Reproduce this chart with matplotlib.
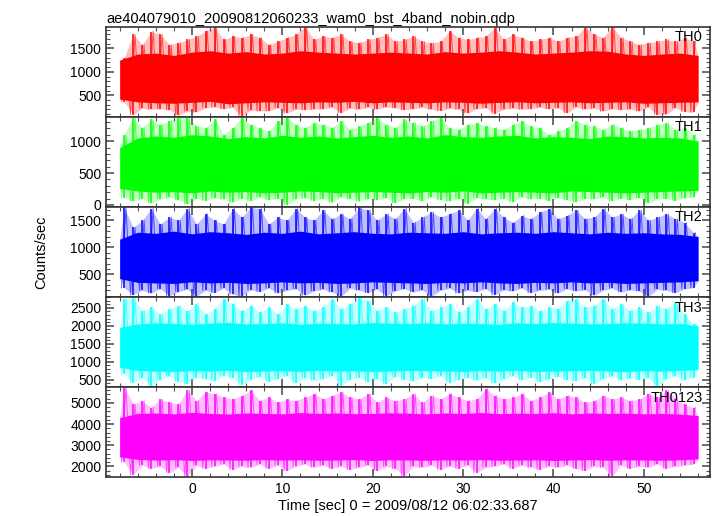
import numpy as np
import matplotlib
matplotlib.use("Agg")
import matplotlib.pyplot as plt
from matplotlib.ticker import MultipleLocator

plt.rcParams['font.family'] = ['Liberation Sans', 'DejaVu Sans']

title = "ae404079010_20090812060233_wam0_bst_4band_nobin.qdp"
xlabel = "Time [sec] 0 = 2009/08/12 06:02:33.687"
ylabel = "Counts/sec"
band_names = ["TH0", "TH1", "TH2", "TH3", "TH0123"]
colors = ["#ff0000", "#00ff00", "#0000ff", "#00ffff", "#ff00ff"]

# data span (s)
t_start, t_end = -8.0, 56.0

# upper / lower extreme spikes, one per second
th0_hi = [1300, 1800, 1580, 1860, 1800, 1580, 1620, 1690, 1760, 1870, 1950, 1690, 1760, 1730, 1800, 1730,
          1580, 1650, 1730, 1800, 1960, 1690, 1760, 1730, 1800, 1650, 1620, 1690, 1730, 1800, 1650, 1690,
          1760, 1650, 1620, 1650, 1870, 1730, 1690, 1730, 1760, 1945, 1690, 1800, 1730, 1650, 1690, 1730,
          1650, 1730, 1760, 1945, 1800, 1730, 1960, 1730, 1650, 1580, 1620, 1650, 1690, 1650, 1730, 1650]
th0_lo = [360, 90, 220, 200, 210, 190, 70, 160, 140, 230, 250, 210, 240, 40, 180, 165,
          170, 230, 120, 200, 190, 200, 210, 240, 130, 220, 200, 240, 200, 250, 230, 190,
          210, 240, 200, 170, 220, 200, 120, 210, 230, 110, 200, 220, 200, 210, 240, 210,
          230, 120, 250, 200, 220, 160, 210, 190, 200, 160, 240, 90, 100, 230, 150, 140]

th1_hi = [1100, 1370, 1210, 1340, 1260, 1316, 1370, 1370, 1235, 1210, 1340, 1100, 1210, 1370, 1260, 1210,
          1155, 1316, 1370, 1260, 1210, 1290, 1260, 1210, 1316, 1180, 1235, 1290, 1370, 1260, 1210, 1340,
          1290, 1235, 1316, 1370, 1210, 1180, 1260, 1290, 1235, 1210, 1180, 1260, 1316, 1235, 1210, 1100,
          1155, 1210, 1316, 1260, 1235, 1180, 1260, 1210, 1155, 1180, 1210, 1260, 1290, 1180, 1210, 1100]
th1_lo = [115, 60, 100, 30, 90, 120, 80, 10, 100, 70, 110, 90, 40, 100, 60, 120,
          80, 100, 0, 90, 110, 70, 100, 40, 120, 90, 60, 100, 80, 110, 30, 90,
          100, 70, 120, 80, 60, 100, 20, 110, 90, 80, 100, 50, 120, 90, 100, 70,
          110, 80, 40, 100, 90, 120, 60, 100, 80, 110, 30, 90, 100, 70, 110, 120]

th2_hi = [1740, 1370, 1500, 1720, 1430, 1560, 1500, 1720, 1430, 1620, 1500, 1430, 1720, 1560, 1740, 1720,
          1430, 1560, 1500, 1720, 1560, 1500, 1690, 1530, 1620, 1530, 1740, 1690, 1500, 1620, 1530, 1720,
          1460, 1560, 1655, 1560, 1620, 1690, 1500, 1720, 1530, 1720, 1560, 1460, 1590, 1530, 1655, 1720,
          1530, 1590, 1690, 1530, 1560, 1720, 1560, 1620, 1530, 1690, 1500, 1560, 1620, 1530, 1460, 1270]
th2_lo = [250, 120, 200, 150, 230, 100, 180, 220, 90, 200, 160, 240, 130, 90, 210, 180,
          240, 150, 200, 230, 110, 190, 220, 170, 90, 240, 200, 160, 220, 100, 190, 230,
          170, 210, 90, 200, 240, 150, 200, 180, 230, 120, 210, 190, 240, 160, 200, 220,
          150, 230, 190, 210, 110, 200, 240, 170, 210, 190, 90, 220, 200, 160, 230, 250]

th3_hi = [2750, 2780, 2420, 2510, 2320, 2470, 2560, 2420, 2610, 2320, 2470, 2750, 2610, 2420, 2560, 2370,
          2510, 2320, 2610, 2470, 2560, 2420, 2510, 2750, 2470, 2610, 2800, 2700, 2420, 2510, 2370, 2470,
          2560, 2750, 2420, 2510, 2610, 2370, 2510, 2750, 2470, 2610, 2420, 2660, 2510, 2560, 2420, 2510,
          2470, 2700, 2750, 2510, 2560, 2750, 2470, 2610, 2420, 2510, 2370, 2560, 2470, 2660, 2320, 2040]
th3_lo = [650, 420, 560, 330, 500, 600, 450, 380, 560, 520, 470, 600, 540, 360, 500, 580,
          450, 520, 600, 400, 550, 480, 520, 600, 340, 500, 560, 450, 520, 380, 590, 500,
          460, 550, 520, 600, 420, 500, 560, 480, 550, 400, 520, 600, 490, 560, 440, 520,
          580, 500, 460, 560, 380, 520, 600, 480, 540, 500, 560, 330, 520, 600, 480, 560]

th0123_hi = [5750, 4940, 5100, 4780, 5180, 5020, 4940, 5590, 5100, 5510, 5430, 5260, 5180, 5340, 5590, 5100,
             5260, 5020, 5180, 5100, 5260, 5430, 5180, 5340, 5510, 5260, 5180, 5430, 5020, 5260, 5100, 5180,
             5430, 5020, 5340, 5180, 5430, 5260, 5100, 5180, 5670, 5340, 5180, 5260, 5430, 5100, 5260, 5510,
             5180, 5340, 5260, 5020, 5100, 5340, 5180, 5260, 5100, 5180, 5430, 5260, 5590, 5180, 4940, 4780]
th0123_lo = [2200, 1600, 2050, 1900, 2000, 1700, 1950, 1520, 2050, 1900, 2000, 2100, 1850, 2000, 1950, 2100,
             1900, 2050, 1800, 2000, 2100, 1950, 2050, 1900, 2000, 1850, 1950, 2050, 1800, 2000, 1900, 1550,
             2000, 1950, 2050, 1850, 2000, 1900, 2050, 1700, 1950, 2000, 2100, 1900, 2050, 1950, 1850, 2000,
             1950, 2050, 1900, 1800, 2000, 1950, 1550, 2050, 1900, 2000, 1950, 2100, 1900, 2000, 2050, 2100]

# edges of the dense (solid) band, every 2 s from -8 to 56
th0_top = [1250, 1380, 1400, 1350, 1420, 1450, 1400, 1430, 1380, 1400, 1450, 1420, 1400, 1380, 1400, 1420, 1400,
           1380, 1430, 1400, 1420, 1450, 1420, 1380, 1400, 1420, 1450, 1440, 1380, 1350, 1380, 1400, 1350]
th0_bot = [420, 360, 340, 330, 350, 370, 320, 340, 360, 350, 340, 360, 350, 370, 340, 360, 350,
           340, 360, 350, 330, 350, 360, 340, 350, 360, 340, 350, 360, 330, 340, 350, 360]
th1_top = [900, 1050, 1080, 1060, 1100, 1080, 1040, 1070, 1050, 1090, 1060, 1080, 1050, 1070, 1090, 1060, 1080,
           1050, 1100, 1070, 1060, 1080, 1090, 1050, 1070, 1060, 1040, 1080, 1070, 1050, 1060, 1050, 1000]
th1_bot = [260, 220, 200, 210, 190, 220, 200, 210, 190, 200, 220, 210, 190, 200, 210, 200, 190,
           210, 200, 220, 190, 200, 210, 200, 190, 220, 210, 200, 190, 200, 210, 220, 230]
th2_top = [1150, 1280, 1260, 1300, 1250, 1290, 1270, 1240, 1280, 1260, 1300, 1250, 1270, 1290, 1260, 1250, 1280,
           1270, 1260, 1290, 1250, 1270, 1280, 1260, 1290, 1270, 1250, 1280, 1260, 1270, 1250, 1240, 1200]
th2_bot = [420, 350, 340, 330, 360, 340, 350, 330, 340, 360, 340, 350, 330, 340, 360, 350, 340,
           330, 350, 340, 360, 340, 330, 350, 340, 360, 340, 350, 330, 340, 350, 360, 380]
th3_top = [1950, 2050, 2080, 2060, 2040, 2070, 2090, 2050, 2060, 2080, 2040, 2070, 2060, 2050, 2090, 2070, 2060,
           2080, 2050, 2070, 2060, 2040, 2080, 2060, 2090, 2070, 2050, 2060, 2080, 2070, 2050, 2060, 2000]
th3_bot = [850, 760, 740, 730, 750, 740, 760, 730, 740, 750, 730, 760, 740, 750, 730, 740, 760,
           750, 740, 730, 750, 740, 760, 730, 740, 750, 760, 740, 730, 750, 740, 760, 780]
th0123_top = [4300, 4500, 4520, 4480, 4550, 4500, 4470, 4520, 4500, 4480, 4540, 4500, 4520, 4490, 4500, 4530, 4510,
              4480, 4520, 4500, 4540, 4490, 4510, 4500, 4530, 4480, 4520, 4500, 4510, 4480, 4500, 4470, 4400]
th0123_bot = [2450, 2330, 2300, 2320, 2280, 2310, 2300, 2290, 2320, 2300, 2310, 2290, 2300, 2320, 2280, 2310, 2300,
              2290, 2310, 2300, 2320, 2290, 2300, 2310, 2280, 2300, 2320, 2290, 2310, 2300, 2290, 2310, 2350]

his = [th0_hi, th1_hi, th2_hi, th3_hi, th0123_hi]
los = [th0_lo, th1_lo, th2_lo, th3_lo, th0123_lo]
tops = [th0_top, th1_top, th2_top, th3_top, th0123_top]
bots = [th0_bot, th1_bot, th2_bot, th3_bot, th0123_bot]

ylims = [(40, 1960), (-30, 1380), (80, 1750), (300, 2800), (1500, 5750)]
yticks = [[500, 1000, 1500], [0, 500, 1000], [500, 1000, 1500],
          [500, 1000, 1500, 2000, 2500], [2000, 3000, 4000, 5000]]
yminor = [100, 100, 100, 100, 200]
xlim = (-9.5, 57.3)

fig = plt.figure(figsize=(7.17, 5.16), dpi=100)
left, right, top, bottom = 0.148, 0.990, 0.948, 0.0756
h = (top - bottom) / 5
tick_col = "#555555"

for i in range(5):
    ax = fig.add_axes([left, top - (i + 1) * h, right - left, h])
    hi = np.array(his[i], float)
    lo = np.array(los[i], float)
    n = len(hi)
    tc = np.linspace(t_start, t_end, n + 1)[:-1] + 0.5
    te = np.linspace(t_start, t_end, len(tops[i]))
    # light haze of the many thin spikes
    tx = np.concatenate([[t_start], tc, [t_end]])
    hx = np.concatenate([[tops[i][0]], hi, [tops[i][-1]]])
    lx = np.concatenate([[bots[i][0]], lo, [bots[i][-1]]])
    ax.fill_between(tx, lx, hx, color=colors[i], alpha=0.25, lw=0, zorder=2)
    # solid dense band
    ax.fill_between(te, bots[i], tops[i], color=colors[i], lw=0, zorder=3)
    # spikes
    ax.vlines(tc, lo, hi, color=colors[i], lw=1.1, zorder=4)
    # zigzag between extremes
    xs = np.empty(2 * n)
    ys = np.empty(2 * n)
    xs[0::2] = tc - 0.3
    xs[1::2] = tc + 0.2
    ys[0::2] = lo
    ys[1::2] = hi
    ax.plot(xs, ys, color=colors[i], lw=0.7, alpha=0.6, zorder=4)

    ax.set_xlim(*xlim)
    ax.set_ylim(*ylims[i])
    ax.set_yticks(yticks[i])
    ax.yaxis.set_minor_locator(MultipleLocator(yminor[i]))
    ax.xaxis.set_major_locator(MultipleLocator(10))
    ax.xaxis.set_minor_locator(MultipleLocator(2))
    ax.tick_params(which='both', direction='in', top=True, right=True, color=tick_col,
                   labelsize=10)
    ax.tick_params(which='major', length=6, width=1.2)
    ax.tick_params(which='minor', length=3, width=0.8)
    for s in ax.spines.values():
        s.set_color("#333333")
        s.set_linewidth(1.2)
        s.set_zorder(6)
    if i < 4:
        ax.tick_params(labelbottom=False)
    else:
        ax.set_xlabel(xlabel, fontsize=10.5, labelpad=2)
    ax.text(0.988, 0.96, band_names[i], transform=ax.transAxes, ha='right', va='top',
            fontsize=10.5, zorder=7)
    if i == 0:
        ax.set_title(title, loc='left', fontsize=10.5, pad=3)

fig.text(0.058, (top + bottom) / 2, ylabel, rotation=90, ha='center', va='center', fontsize=10.5)

fig.savefig("out.png", dpi=100)
